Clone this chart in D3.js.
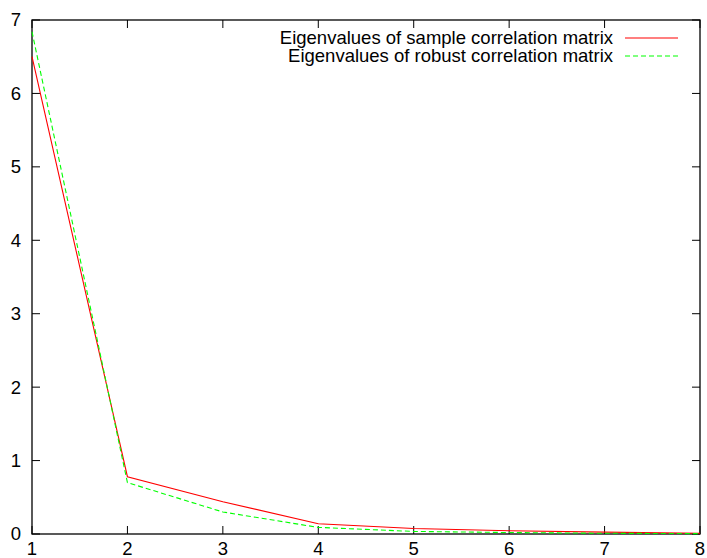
<!DOCTYPE html>
<html>
<head>
<meta charset="utf-8">
<script src="https://cdn.jsdelivr.net/npm/d3@7"></script>
<style>
  body { margin: 0; background: #fff; }
  svg { display: block; }
  text { font-family: "Liberation Sans", Arial, Helvetica, sans-serif; fill: #000; }
</style>
</head>
<body>
<svg id="chart" width="707" height="558"></svg>
<script>
// eigenvalue index 1..8
var components = [1, 2, 3, 4, 5, 6, 7, 8];
// eigenvalues
var sampleEig = [6.50, 0.78, 0.44, 0.14, 0.075, 0.045, 0.025, 0.01];
var robustEig = [6.84, 0.70, 0.30, 0.09, 0.035, 0.02, 0.01, 0.005];
var xTicks = [1, 2, 3, 4, 5, 6, 7, 8];
var yTicks = [0, 1, 2, 3, 4, 5, 6, 7];
var seriesNames = ["Eigenvalues of sample correlation matrix", "Eigenvalues of robust correlation matrix"];

(function () {
    // plot box in pixels
    var pL = 32, pR = 700, pT = 20, pB = 534;
    var tickLen = 8, fontSize = 18.5;

    var svg = d3.select("#chart");

    var x = d3.scaleLinear().domain([1, 8]).range([pL, pR]);
    var y = d3.scaleLinear().domain([0, 7]).range([pB, pT]);

    // border
    svg.append("rect")
        .attr("x", pL).attr("y", pT)
        .attr("width", pR - pL).attr("height", pB - pT)
        .attr("fill", "none").attr("stroke", "#000").attr("stroke-width", 1.3);

    // ticks, mirrored on all four sides, pointing inward
    var ticks = svg.append("g").attr("stroke", "#000").attr("stroke-width", 1);
    xTicks.forEach(function (t) {
        ticks.append("line").attr("x1", x(t)).attr("x2", x(t)).attr("y1", pB).attr("y2", pB - tickLen);
        ticks.append("line").attr("x1", x(t)).attr("x2", x(t)).attr("y1", pT).attr("y2", pT + tickLen);
    });
    yTicks.forEach(function (t) {
        ticks.append("line").attr("x1", pL).attr("x2", pL + tickLen).attr("y1", y(t)).attr("y2", y(t));
        ticks.append("line").attr("x1", pR).attr("x2", pR - tickLen).attr("y1", y(t)).attr("y2", y(t));
    });

    // tick labels (reference crops them at the bottom; keep them just inside)
    svg.append("g").selectAll("text").data(xTicks).join("text")
        .attr("x", function (d) { return d === 8 ? Math.min(x(d), 701) : x(d); })
        .attr("y", 555)
        .attr("text-anchor", "middle")
        .attr("font-size", fontSize)
        .text(function (d) { return d; });

    svg.append("g").selectAll("text").data(yTicks).join("text")
        .attr("x", 21)
        .attr("y", function (d) { return y(d); })
        .attr("dy", "0.35em")
        .attr("text-anchor", "end")
        .attr("font-size", fontSize)
        .text(function (d) { return d; });

    // lines
    var line = d3.line()
        .x(function (d) { return x(d[0]); })
        .y(function (d) { return y(d[1]); });

    var series = [
        { name: seriesNames[0], values: sampleEig, color: "#ff0000", dash: null },
        { name: seriesNames[1], values: robustEig, color: "#00ff00", dash: "5,3" }
    ];

    series.forEach(function (s) {
        svg.append("path")
            .datum(components.map(function (c, i) { return [c, s.values[i]]; }))
            .attr("d", line)
            .attr("fill", "none")
            .attr("stroke", s.color)
            .attr("stroke-width", 1.1)
            .attr("stroke-dasharray", s.dash);
    });

    // legend
    var leg = svg.append("g");
    series.forEach(function (s, i) {
        var ly = 38 + i * 18;
        leg.append("text")
            .attr("x", 613).attr("y", ly)
            .attr("dy", "0.35em")
            .attr("text-anchor", "end")
            .attr("font-size", fontSize)
            .text(s.name);
        leg.append("line")
            .attr("x1", 625).attr("x2", 678)
            .attr("y1", ly).attr("y2", ly)
            .attr("stroke", s.color).attr("stroke-width", 1.1)
            .attr("stroke-dasharray", s.dash);
    });
})();
</script>
</body>
</html>
